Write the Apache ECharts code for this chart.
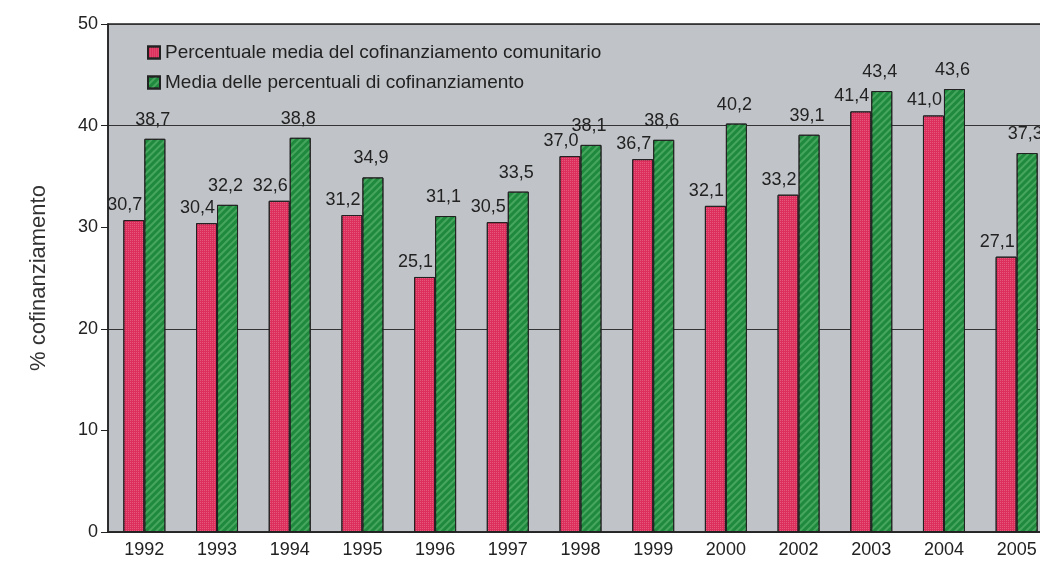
<!DOCTYPE html>
<html>
<head>
<meta charset="utf-8">
<script src="https://cdn.jsdelivr.net/npm/echarts@6/dist/echarts.min.js"></script>
<style>
  html, body { margin: 0; padding: 0; background: #fff; }
  #chart { width: 1040px; height: 567px; }
</style>
</head>
<body>
<div id="chart"></div>
<script>
// anni
const years = ['1992', '1993', '1994', '1995', '1996', '1997', '1998', '1999', '2000', '2002', '2003', '2004', '2005']
// percentuale media del cofinanziamento comunitario
const percMedia = [30.7, 30.4, 32.6, 31.2, 25.1, 30.5, 37.0, 36.7, 32.1, 33.2, 41.4, 41.0, 27.1]
// media delle percentuali di cofinanziamento
const mediaPerc = [38.7, 32.2, 38.8, 34.9, 31.1, 33.5, 38.1, 38.6, 40.2, 39.1, 43.4, 43.6, 37.3]

const font = 'Liberation Sans, Arial, sans-serif'
const fmt = function (p) { return p.value.toFixed(1).replace('.', ',') }

let myChart = echarts.init(document.getElementById('chart'))
myChart.setOption({
  animation: false,
  textStyle: { fontFamily: font },
  grid: {
    left: 108,
    top: 24,
    right: -13,
    bottom: 35,
    outerBoundsMode: 'none',
    show: true,
    backgroundColor: '#c0c4c8',
    borderColor: '#222',
    borderWidth: 1.5
  },
  legend: {
    orient: 'vertical',
    left: 142,
    top: 38,
    itemWidth: 12,
    itemHeight: 12,
    itemGap: 11,
    icon: 'rect',
    textStyle: { fontSize: 19, color: '#222', fontFamily: font },
    data: ['Percentuale media del cofinanziamento comunitario', 'Media delle percentuali di cofinanziamento']
  },
  xAxis: {
    type: 'category',
    data: years,
    axisLine: { lineStyle: { color: '#222', width: 1.5 } },
    axisTick: { show: false },
    axisLabel: { fontSize: 18, color: '#222', margin: 9 }
  },
  yAxis: [
    {
      type: 'value',
      min: 0,
      max: 50,
      interval: 10,
      name: '% cofinanziamento',
      nameLocation: 'middle',
      nameGap: 58,
      nameTextStyle: { fontSize: 22, color: '#333' },
      axisLine: { show: true, lineStyle: { color: '#222', width: 1.5 } },
      axisTick: { show: true, length: 7, lineStyle: { color: '#222' } },
      axisLabel: { fontSize: 18, color: '#222', margin: 10 },
      splitLine: { show: false }
    },
    {
      // linee di griglia solo a 20 e 40
      type: 'value',
      min: 0,
      max: 50,
      interval: 20,
      position: 'left',
      axisLine: { show: false },
      axisTick: { show: false },
      axisLabel: { show: false },
      splitLine: { show: true, lineStyle: { color: '#333', width: 1 } }
    }
  ],
  series: [
    {
      name: 'Percentuale media del cofinanziamento comunitario',
      type: 'bar',
      data: percMedia,
      barWidth: 21,
      barGap: '0%',
      itemStyle: {
        color: '#dc2f5c',
        borderColor: '#222',
        borderWidth: 1,
        decal: {
          symbol: 'rect',
          symbolSize: 1,
          dashArrayX: [1, 1],
          dashArrayY: [1, 1],
          color: 'rgba(255,190,210,0.3)'
        }
      },
      label: {
        show: true,
        position: 'top',
        distance: 6,
        offset: [-9, 0],
        fontSize: 18,
        color: '#222',
        formatter: fmt
      }
    },
    {
      name: 'Media delle percentuali di cofinanziamento',
      type: 'bar',
      data: mediaPerc,
      barWidth: 21,
      itemStyle: {
        color: '#1f8a3e',
        borderColor: '#222',
        borderWidth: 1,
        decal: {
          symbol: 'rect',
          symbolSize: 1,
          dashArrayX: [1, 0],
          dashArrayY: [2, 3],
          rotation: -Math.PI / 4,
          color: 'rgba(120,200,130,0.45)'
        }
      },
      label: {
        show: true,
        position: 'top',
        distance: 10,
        offset: [-2, 0],
        fontSize: 18,
        color: '#222',
        formatter: fmt
      }
    }
  ]
})
</script>
</body>
</html>
